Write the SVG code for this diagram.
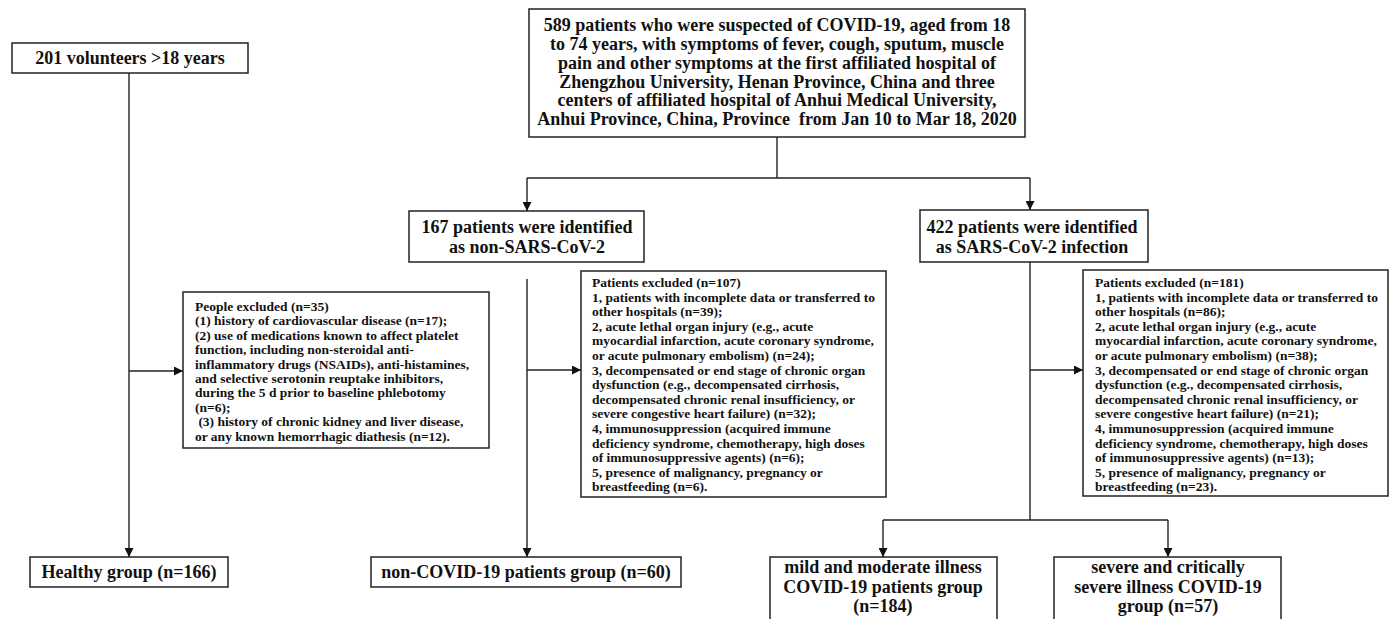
<svg xmlns="http://www.w3.org/2000/svg" width="1390" height="619" viewBox="0 0 1390 619">
<style>
.box{fill:#fff;stroke:#222;stroke-width:1.5}
.t{font-family:"Liberation Serif","Times New Roman",serif;font-weight:bold;fill:#111}
.big{font-size:18px;text-anchor:middle}
.sm{font-size:13.5px}
.ln{fill:none;stroke:#222;stroke-width:1.4}
</style>
<defs>
<marker id="ah" markerUnits="userSpaceOnUse" markerWidth="9" markerHeight="9" refX="9" refY="4.5" orient="auto">
<path d="M0,0 L9,4.5 L0,9 z" fill="#111"/>
</marker>
</defs>
<rect width="1390" height="619" fill="#fff"/>

<g id="connectors">
<line class="ln" x1="777" y1="137" x2="777" y2="178"/>
<line class="ln" x1="527" y1="178" x2="1030" y2="178"/>
<line class="ln" x1="527" y1="178" x2="527" y2="211" marker-end="url(#ah)"/>
<line class="ln" x1="1030" y1="178" x2="1030" y2="210" marker-end="url(#ah)"/>
<line class="ln" x1="129" y1="73" x2="129" y2="557" marker-end="url(#ah)"/>
<line class="ln" x1="129" y1="371" x2="183" y2="371" marker-end="url(#ah)"/>
<line class="ln" x1="527" y1="279" x2="527" y2="557" marker-end="url(#ah)"/>
<line class="ln" x1="527" y1="370" x2="581" y2="370" marker-end="url(#ah)"/>
<line class="ln" x1="1030" y1="262" x2="1030" y2="520"/>
<line class="ln" x1="1030" y1="370" x2="1083" y2="370" marker-end="url(#ah)"/>
<line class="ln" x1="883" y1="520" x2="1168" y2="520"/>
<line class="ln" x1="883" y1="520" x2="883" y2="557" marker-end="url(#ah)"/>
<line class="ln" x1="1168" y1="520" x2="1168" y2="557" marker-end="url(#ah)"/>
</g>

<g id="n-volunteers">
<rect class="box" x="12" y="43" width="236" height="30"/>
<text class="t big" x="130" y="64">201 volunteers &gt;18 years</text>
</g>

<g id="n-suspected">
<rect class="box" x="529" y="9" width="496" height="128"/>
<text class="t big" xml:space="preserve"><tspan x="777" y="31">589 patients who were suspected of COVID-19, aged from 18</tspan><tspan x="777" y="50">to 74 years, with symptoms of fever, cough, sputum, muscle</tspan><tspan x="777" y="69">pain and other symptoms at the first affiliated hospital of</tspan><tspan x="777" y="88">Zhengzhou University, Henan Province, China and three</tspan><tspan x="777" y="106">centers of affiliated hospital of Anhui Medical University,</tspan><tspan x="777" y="125">Anhui Province, China, Province  from Jan 10 to Mar 18, 2020</tspan></text>
</g>

<g id="n-nonsars">
<rect class="box" x="409" y="211" width="235" height="51"/>
<text class="t big"><tspan x="527" y="233">167 patients were identified</tspan><tspan x="527" y="253">as non-SARS-CoV-2</tspan></text>
</g>

<g id="n-sars">
<rect class="box" x="920" y="210" width="228" height="52"/>
<text class="t big"><tspan x="1032" y="233">422 patients were identified</tspan><tspan x="1032" y="253">as SARS-CoV-2 infection</tspan></text>
</g>

<g id="n-excl-healthy">
<rect class="box" x="183" y="292" width="306" height="156"/>
<text class="t sm" xml:space="preserve"><tspan x="195" y="311">People excluded (n=35)</tspan><tspan x="195" y="325.4">(1) history of cardiovascular disease (n=17);</tspan><tspan x="195" y="339.8">(2) use of medications known to affect platelet</tspan><tspan x="195" y="354.2">function, including non-steroidal anti-</tspan><tspan x="195" y="368.6">inflammatory drugs (NSAIDs), anti-histamines,</tspan><tspan x="195" y="383">and selective serotonin reuptake inhibitors,</tspan><tspan x="195" y="397.4">during the 5 d prior to baseline phlebotomy</tspan><tspan x="195" y="411.8">(n=6);</tspan><tspan x="195" y="426.2"> (3) history of chronic kidney and liver disease,</tspan><tspan x="195" y="440.6">or any known hemorrhagic diathesis (n=12).</tspan></text>
</g>

<g id="n-excl-nonsars">
<rect class="box" x="581" y="271" width="305" height="226"/>
<text class="t sm"><tspan x="592" y="287">Patients excluded (n=107)</tspan><tspan x="592" y="301.6">1, patients with incomplete data or transferred to</tspan><tspan x="592" y="316.2">other hospitals (n=39);</tspan><tspan x="592" y="330.8">2, acute lethal organ injury (e.g., acute</tspan><tspan x="592" y="345.4">myocardial infarction, acute coronary syndrome,</tspan><tspan x="592" y="360">or acute pulmonary embolism) (n=24);</tspan><tspan x="592" y="374.6">3, decompensated or end stage of chronic organ</tspan><tspan x="592" y="389.2">dysfunction (e.g., decompensated cirrhosis,</tspan><tspan x="592" y="403.8">decompensated chronic renal insufficiency, or</tspan><tspan x="592" y="418.4">severe congestive heart failure) (n=32);</tspan><tspan x="592" y="433">4, immunosuppression (acquired immune</tspan><tspan x="592" y="447.6">deficiency syndrome, chemotherapy, high doses</tspan><tspan x="592" y="462.2">of immunosuppressive agents) (n=6);</tspan><tspan x="592" y="476.8">5, presence of malignancy, pregnancy or</tspan><tspan x="592" y="491.4">breastfeeding (n=6).</tspan></text>
</g>

<g id="n-excl-sars">
<rect class="box" x="1083" y="270" width="305" height="226"/>
<text class="t sm"><tspan x="1095" y="287">Patients excluded (n=181)</tspan><tspan x="1095" y="301.6">1, patients with incomplete data or transferred to</tspan><tspan x="1095" y="316.2">other hospitals (n=86);</tspan><tspan x="1095" y="330.8">2, acute lethal organ injury (e.g., acute</tspan><tspan x="1095" y="345.4">myocardial infarction, acute coronary syndrome,</tspan><tspan x="1095" y="360">or acute pulmonary embolism) (n=38);</tspan><tspan x="1095" y="374.6">3, decompensated or end stage of chronic organ</tspan><tspan x="1095" y="389.2">dysfunction (e.g., decompensated cirrhosis,</tspan><tspan x="1095" y="403.8">decompensated chronic renal insufficiency, or</tspan><tspan x="1095" y="418.4">severe congestive heart failure) (n=21);</tspan><tspan x="1095" y="433">4, immunosuppression (acquired immune</tspan><tspan x="1095" y="447.6">deficiency syndrome, chemotherapy, high doses</tspan><tspan x="1095" y="462.2">of immunosuppressive agents) (n=13);</tspan><tspan x="1095" y="476.8">5, presence of malignancy, pregnancy or</tspan><tspan x="1095" y="491.4">breastfeeding (n=23).</tspan></text>
</g>

<g id="n-healthy">
<rect class="box" x="30" y="557" width="198" height="30"/>
<text class="t big" x="129" y="578">Healthy group (n=166)</text>
</g>

<g id="n-noncovid">
<rect class="box" x="371" y="557" width="310" height="30"/>
<text class="t big" x="526" y="578">non-COVID-19 patients group (n=60)</text>
</g>

<g id="n-mild">
<rect class="box" x="770" y="557" width="227" height="72"/>
<text class="t big"><tspan x="883" y="573">mild and moderate illness</tspan><tspan x="883" y="593">COVID-19 patients group</tspan><tspan x="883" y="612">(n=184)</tspan></text>
</g>

<g id="n-severe">
<rect class="box" x="1054" y="557" width="227" height="72"/>
<text class="t big"><tspan x="1168" y="573">severe and critically</tspan><tspan x="1168" y="593">severe illness COVID-19</tspan><tspan x="1168" y="612">group (n=57)</tspan></text>
</g>
</svg>
